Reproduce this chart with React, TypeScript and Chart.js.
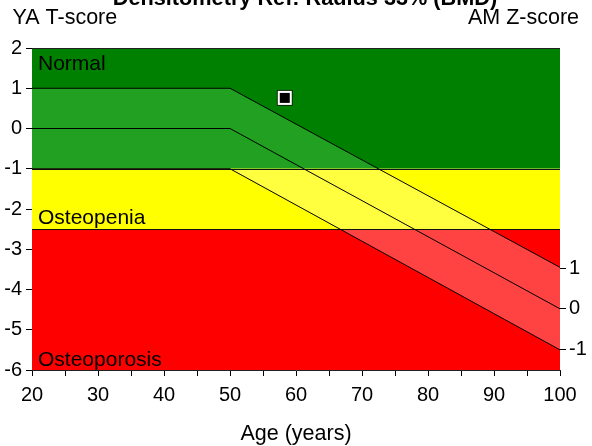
import React, { useEffect, useRef } from 'react';
import { Chart, registerables } from 'chart.js';

Chart.register(...registerables);

// ---- data ----
const titleText = 'Densitometry Ref: Radius 33% (BMD)';
const leftAxisTitle = 'YA T-score';
const rightAxisTitle = 'AM Z-score';
const xAxisTitle = 'Age (years)';

const ages = [20, 50, 100];
const upperT = [1, 1, -3.45];
const meanT = [0, 0, -4.48];
const lowerT = [-1, -1, -5.5];

const zoneNames = ['Normal', 'Osteopenia', 'Osteoporosis'];
const zoneTops = [2, -1, -2.5];
const zoneBottoms = [-1, -2.5, -6];
const zoneColors = ['#008000', '#ffff00', '#ff0000'];
const bandColors = ['#21a021', '#ffff40', '#ff4242'];

const tTicks = [2, 1, 0, -1, -2, -3, -4, -5, -6];
const zTicks = [1, 0, -1];
const ageMin = 20;
const ageMax = 100;
const ageStep = 5;

const patientAge = [58.3];
const patientT = [0.76];

const FONT = '"Liberation Sans", Arial, sans-serif';

const bgPlugin = {
  id: 'zones',
  beforeDatasetsDraw(chart: any) {
    const { ctx, chartArea: ca } = chart;
    const xs = chart.scales.x;
    const ys = chart.scales.y;
    const w = ca.right - ca.left;
    ctx.save();
    zoneTops.forEach((top: number, i: number) => {
      const yt = ys.getPixelForValue(top);
      const yb = ys.getPixelForValue(zoneBottoms[i]);
      ctx.fillStyle = zoneColors[i];
      ctx.fillRect(ca.left, yt, w, yb - yt);
      ctx.save();
      ctx.beginPath();
      ctx.rect(ca.left, yt, w, yb - yt);
      ctx.clip();
      ctx.beginPath();
      ages.forEach((a, j) => {
        const px = xs.getPixelForValue(a);
        const py = ys.getPixelForValue(upperT[j]);
        if (j === 0) ctx.moveTo(px, py);
        else ctx.lineTo(px, py);
      });
      for (let j = ages.length - 1; j >= 0; j--) {
        ctx.lineTo(xs.getPixelForValue(ages[j]), ys.getPixelForValue(lowerT[j]));
      }
      ctx.closePath();
      ctx.fillStyle = bandColors[i];
      ctx.fill();
      ctx.restore();
    });
    ctx.strokeStyle = '#111';
    ctx.lineWidth = 1;
    zoneBottoms.slice(0, -1).forEach((v: number) => {
      const py = Math.round(ys.getPixelForValue(v)) + 0.5;
      ctx.beginPath();
      ctx.moveTo(ca.left, py);
      ctx.lineTo(ca.right, py);
      ctx.stroke();
    });
    ctx.restore();
  },
  afterDatasetsDraw(chart: any) {
    const { ctx, chartArea: ca } = chart;
    const ys = chart.scales.y;
    ctx.save();
    ctx.strokeStyle = '#222';
    ctx.lineWidth = 1;
    ctx.beginPath();
    ctx.moveTo(ca.left, ca.top + 0.5);
    ctx.lineTo(ca.right, ca.top + 0.5);
    ctx.stroke();
    ctx.fillStyle = '#000';
    ctx.font = `21px ${FONT}`;
    ctx.textAlign = 'left';
    ctx.textBaseline = 'alphabetic';
    ctx.fillText(zoneNames[0], ca.left + 6, ys.getPixelForValue(zoneTops[0]) + 22);
    ctx.fillText(zoneNames[1], ca.left + 6, ys.getPixelForValue(zoneBottoms[1]) - 5);
    ctx.fillText(zoneNames[2], ca.left + 6, ys.getPixelForValue(zoneBottoms[2]) - 4);
    ctx.restore();
  },
  afterDraw(chart: any) {
    const { ctx } = chart;
    ctx.save();
    ctx.fillStyle = '#000';
    ctx.textBaseline = 'alphabetic';
    ctx.font = `bold 21.7px ${FONT}`;
    ctx.textAlign = 'center';
    ctx.fillText(titleText, 305, 5);
    ctx.font = `21.5px ${FONT}`;
    ctx.textAlign = 'left';
    ctx.fillText(leftAxisTitle, 12.5, 24);
    ctx.textAlign = 'right';
    ctx.fillText(rightAxisTitle, 579, 24);
    ctx.textAlign = 'center';
    ctx.fillText(xAxisTitle, 296, 440);
    ctx.restore();
  },
};

export default function App() {
  const ref = useRef<HTMLCanvasElement | null>(null);
  useEffect(() => {
    document.body.style.margin = '0';
    if (!ref.current) return;
    const zShift = meanT[meanT.length - 1];
    const lineDs = (vals: number[]) => ({
      type: 'line' as const,
      data: ages.map((a, i) => ({ x: a, y: vals[i] })),
      borderColor: '#000',
      borderWidth: 1,
      pointRadius: 0,
      fill: false,
      tension: 0,
      yAxisID: 'y',
    });
    // Chart.js draws dataset 0 on top, so the innermost square comes first
    const markerDs = (radius: number, color: string) => ({
      type: 'scatter' as const,
      data: patientAge.map((a, i) => ({ x: a, y: patientT[i] })),
      pointStyle: 'rect',
      pointRadius: radius,
      pointBackgroundColor: color,
      pointBorderWidth: 0,
      borderWidth: 0,
      yAxisID: 'y',
    });
    const chart = new Chart(ref.current, {
      type: 'line',
      data: {
        datasets: [
          markerDs(7.07, '#000000'),
          markerDs(9.9, '#ffffff'),
          markerDs(11.3, '#0a2a0a'),
          lineDs(upperT),
          lineDs(meanT),
          lineDs(lowerT),
        ] as any,
      },
      options: {
        responsive: false,
        animation: false,
        events: [],
        layout: { padding: { top: 48, left: 0, right: 0, bottom: 0 } },
        plugins: {
          legend: { display: false },
          tooltip: { enabled: false },
          title: { display: false },
        },
        scales: {
          x: {
            type: 'linear',
            min: ageMin,
            max: ageMax,
            afterFit: (s: any) => { s.height = 76; },
            ticks: {
              stepSize: ageStep,
              autoSkip: false,
              maxRotation: 0,
              color: '#000',
              padding: 7,
              font: { family: FONT, size: 20 },
              callback: (v: any) => (Number(v) % 10 === 0 ? String(v) : ''),
            },
            grid: { drawOnChartArea: false, tickLength: 6, color: '#000' },
            border: { display: true, color: '#222' },
          },
          y: {
            type: 'linear',
            position: 'left',
            min: tTicks[tTicks.length - 1],
            max: tTicks[0],
            afterFit: (s: any) => { s.width = 32; },
            afterBuildTicks: (s: any) => { s.ticks = tTicks.map((v) => ({ value: v })); },
            ticks: { color: '#000', padding: 4, font: { family: FONT, size: 20 } },
            grid: { drawOnChartArea: false, tickLength: 6, color: '#000' },
            border: { display: true, color: '#222' },
          },
          y2: {
            type: 'linear',
            position: 'right',
            min: tTicks[tTicks.length - 1] - zShift,
            max: tTicks[0] - zShift,
            afterFit: (s: any) => { s.width = 32; },
            afterBuildTicks: (s: any) => { s.ticks = zTicks.map((v) => ({ value: v })); },
            ticks: { color: '#000', padding: 3, font: { family: FONT, size: 20 } },
            grid: { drawOnChartArea: false, tickLength: 6, color: '#000' },
            border: { display: false },
          },
        },
      } as any,
      plugins: [bgPlugin],
    });
    return () => chart.destroy();
  }, []);
  return (
    <div style={{ position: 'fixed', left: 0, top: 0, width: 592, height: 446 }}>
      <canvas ref={ref} width={592} height={446} style={{ width: 592, height: 446 }} />
    </div>
  );
}
